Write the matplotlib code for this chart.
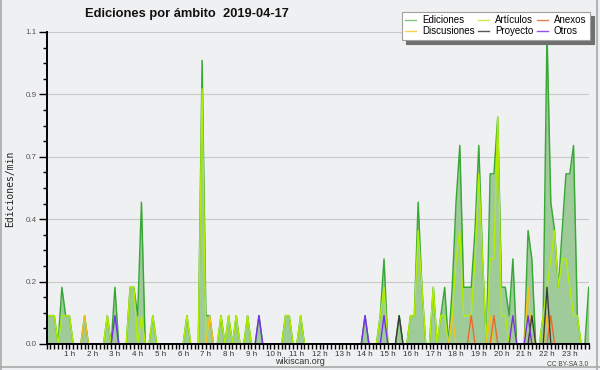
import matplotlib
matplotlib.use("Agg")
import matplotlib.pyplot as plt
from matplotlib.ticker import FixedLocator, FixedFormatter, MultipleLocator
from matplotlib.lines import Line2D
import numpy as np

# ---- data (edits per minute, 10-minute buckets, one row per hour) ----
hour_labels = [f"{h} h" for h in range(1, 24)]
y_tick_values = [0, 0.22, 0.44, 0.66, 0.88, 1.1]
y_tick_labels = ["0.0", "0.2", "0.4", "0.7", "0.9", "1.1"]

ediciones = [
    .1, .1, .1, 0, .2, .1,
    .1, 0, 0, 0, .1, 0,
    0, 0, 0, 0, .1, 0,
    .2, 0, 0, 0, .2, .2,
    .1, .5, 0, 0, .1, 0,
    0, 0, 0, 0, 0, 0,
    0, .1, 0, 0, 0, 1.0,
    .1, .1, 0, 0, .1, 0,
    .1, 0, .1, 0, 0, .1,
    0, 0, .1, 0, 0, 0,
    0, 0, 0, .1, .1, 0,
    0, .1, 0, 0, 0, 0,
    0, 0, 0, 0, 0, 0,
    0, 0, 0, 0, 0, 0,
    .1, 0, 0, 0, .1, .3,
    0, 0, 0, .1, 0, 0,
    .1, .1, .5, .2, 0, 0,
    .2, 0, .1, .2, 0, .2,
    .5, .7, .2, .2, .2, .4,
    .7, .3, 0, .6, .6, .8,
    .2, .2, .1, .3, 0, 0,
    0, .4, .3, 0, 0, .1,
    1.1, .5, .4, .2, .4, .6,
    .6, .7, .1, 0, 0, .2,
]

articulos = [
    .1, .1, .1, 0, .1, .1,
    .1, 0, 0, 0, 0, 0,
    0, 0, 0, 0, .1, 0,
    0, 0, 0, 0, .2, .2,
    0, .1, 0, 0, .1, 0,
    0, 0, 0, 0, 0, 0,
    0, .1, 0, 0, 0, .9,
    0, 0, 0, 0, .1, 0,
    .1, 0, .1, 0, 0, .1,
    0, 0, 0, 0, 0, 0,
    0, 0, 0, .1, .1, 0,
    0, .1, 0, 0, 0, 0,
    0, 0, 0, 0, 0, 0,
    0, 0, 0, 0, 0, 0,
    0, 0, 0, 0, .1, .2,
    0, 0, 0, 0, 0, 0,
    .1, .1, .4, .2, 0, 0,
    .2, 0, .1, .1, 0, .1,
    .3, .4, .1, .1, .1, .3,
    .6, .3, 0, .3, .3, .8,
    .1, .1, 0, .1, 0, 0,
    0, .1, .1, 0, 0, .1,
    .2, .3, .4, .2, .3, .3,
    .2, .1, .1, 0, 0, 0,
]

discusiones = [0] * 144
discusiones[10] = .1
discusiones[43] = .1
discusiones[107] = .1
discusiones[117] = .1
discusiones[127] = .2
discusiones[132] = .1

anexos = [0] * 144
anexos[112] = .1
anexos[118] = .1
anexos[133] = .1

proyecto = [0] * 144
proyecto[93] = .1
proyecto[128] = .1
proyecto[132] = .2

otros = [0] * 144
otros[18] = .1
otros[56] = .1
otros[84] = .1
otros[89] = .1
otros[123] = .1
otros[127] = .1

# ---- styling ----
BG = "#eff0f2"
FILL = "#9fcb9b"
C_ED = "#38a835"
C_ART = "#b2ee00"
C_DIS = "#f5c21b"
C_ANX = "#ee6a2a"
C_PRO = "#3c3c3c"
C_OTR = "#7a2ef0"
SANS = ["Liberation Sans", "DejaVu Sans"]

W, H = 600, 370
fig = plt.figure(figsize=(6, 3.7), dpi=100, facecolor=BG)
x0, x1, ytop, ybot = 46.7, 588.7, 32, 344
ax = fig.add_axes([x0 / W, 1 - ybot / H, (x1 - x0) / W, (ybot - ytop) / H])
ax.set_facecolor(BG)

x = np.arange(len(ediciones))
ax.fill_between(x, ediciones, 0, color=FILL, lw=0, zorder=2)
ax.plot(x, ediciones, color=C_ED, lw=1.05, zorder=3)
ax.plot(x, articulos, color=C_ART, lw=1.0, zorder=4)
ax.plot(x, discusiones, color=C_DIS, lw=1.0, zorder=4)
ax.plot(x, anexos, color=C_ANX, lw=1.0, zorder=4)
ax.plot(x, proyecto, color=C_PRO, lw=1.0, zorder=4)
ax.plot(x, otros, color=C_OTR, lw=1.0, zorder=4)

ax.set_xlim(0, len(ediciones) - 1)
ax.set_ylim(0, 1.1)

for s in ["top", "right"]:
    ax.spines[s].set_visible(False)
for s in ["left", "bottom"]:
    ax.spines[s].set_color("black")
    ax.spines[s].set_linewidth(1.4)
    ax.spines[s].set_zorder(6)

# y axis
ax.yaxis.set_major_locator(FixedLocator(y_tick_values))
ax.yaxis.set_major_formatter(FixedFormatter(y_tick_labels))
minor_y = [i * 0.055 for i in range(21) if i % 4 != 0]
ax.yaxis.set_minor_locator(FixedLocator(minor_y))
ax.tick_params(axis="y", which="major", length=6, width=1, color="black",
               labelsize=5.8, labelcolor="#555555", pad=1)
ax.tick_params(axis="y", which="minor", length=3, width=1, color="black")
ax.grid(axis="y", which="major", color="#c9c9c9", lw=0.8)
ax.set_axisbelow(True)

# x axis
hour_pos = [6 * h for h in range(1, 24)]
ax.xaxis.set_major_locator(FixedLocator(hour_pos))
ax.xaxis.set_major_formatter(FixedFormatter(hour_labels))
ax.xaxis.set_minor_locator(MultipleLocator(1))
ax.tick_params(axis="x", which="both", length=3.5, width=1, color="black",
               labelsize=5.8, labelcolor="#333333", pad=1.5)
for lab in ax.get_yticklabels() + ax.get_xticklabels():
    lab.set_family(SANS)

# texts
fig.text(85 / W, 1 - 14.5 / H, "Ediciones por ámbito  2019-04-17", family=SANS,
         fontweight="bold", fontsize=9.3, ha="left", va="center", color="#111111")
fig.text(10 / W, 1 - 189 / H, "Ediciones/min", family=["DejaVu Sans Mono"],
         fontsize=7, rotation=90, ha="center", va="center", color="#222222")
fig.text(300 / W, 1 - 361 / H, "wikiscan.org", family=SANS, fontsize=6.5,
         ha="center", va="center", color="#333333")
fig.text(588 / W, 1 - 364 / H, "CC BY-SA 3.0", family=SANS, fontsize=4.8,
         ha="right", va="center", color="#444444")

# legend
handles = [
    Line2D([], [], color="#7fc97f", lw=1.0, label="Ediciones"),
    Line2D([], [], color="#f8d04a", lw=1.0, label="Discusiones"),
    Line2D([], [], color="#c6ee4a", lw=1.0, label="Artículos"),
    Line2D([], [], color="#555555", lw=1.0, label="Proyecto"),
    Line2D([], [], color="#f0804a", lw=1.0, label="Anexos"),
    Line2D([], [], color="#9050f0", lw=1.0, label="Otros"),
]
leg = fig.legend(handles=handles, ncol=3, loc="upper right",
                 bbox_to_anchor=(589.5 / W, 1 - 11.5 / H), bbox_transform=fig.transFigure,
                 prop={"family": SANS, "size": 7}, frameon=True, fancybox=False,
                 shadow={"ox": 3, "oy": -3, "facecolor": "#707070", "edgecolor": "#707070", "alpha": 1},
                 handlelength=1.1, handletextpad=0.6, columnspacing=0.4,
                 labelspacing=0.15, borderpad=0.35, borderaxespad=0)
leg.get_frame().set_edgecolor("#a0a0a0")
leg.get_frame().set_linewidth(0.8)
leg.get_frame().set_facecolor("white")

# outer border
border = dict(color="#a8a8a8", lw=1.2, transform=fig.transFigure)
fig.add_artist(Line2D([0.7 / W, 0.7 / W], [0, 1], **border))
fig.add_artist(Line2D([596.5 / W, 596.5 / W], [0, 1], **border))
fig.add_artist(Line2D([0, 1], [1 - 367.3 / H, 1 - 367.3 / H], **border))

fig.savefig("out.png", dpi=100, facecolor=BG)
